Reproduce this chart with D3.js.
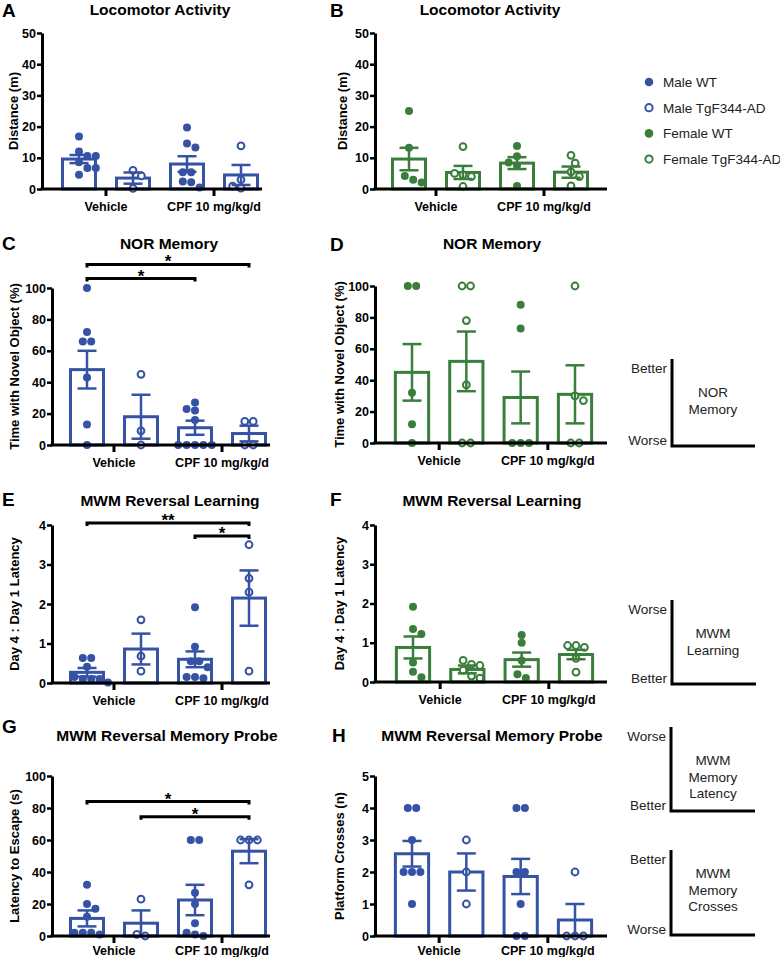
<!DOCTYPE html>
<html><head><meta charset="utf-8">
<script src="https://cdn.jsdelivr.net/npm/d3@7"></script>
<style>
html,body{margin:0;padding:0;background:#fff;}
svg{display:block;font-family:"Liberation Sans",Arial,Helvetica,sans-serif;}
</style></head>
<body>
<svg id="chart" width="780" height="957"></svg>
<script>
// ---------------- DATA ----------------
const groups = ["Vehicle", "CPF 10 mg/kg/d"];
const legendLabels = ["Male WT", "Male TgF344-AD", "Female WT", "Female TgF344-AD"];

const ticksLoco = [0, 10, 20, 30, 40, 50];
const ticksNOR = [0, 20, 40, 60, 80, 100];
const ticksMWM = [0, 1, 2, 3, 4];
const ticksLatency = [0, 20, 40, 60, 80, 100];
const ticksCrosses = [0, 1, 2, 3, 4, 5];

// A: Locomotor, male
const locoMaleMeans = [9.6, 3.5, 8.0, 4.5];
const locoMaleSEM = [1.3, 1.8, 2.5, 3.2];
const locoMalePoints = [[16.8, 12.0, 10.6, 10.6, 8.6, 6.7, 6.7, 4.6], [6.0, 4.2, 0.2], [19.7, 14.6, 13.3, 5.4, 5.4, 2.4, 2.2, 0.5], [13.8, 3.0, 0.9, 0.3]];
// B: Locomotor, female
const locoFemaleMeans = [9.6, 5.3, 8.3, 5.4];
const locoFemaleSEM = [3.6, 2.1, 1.9, 1.8];
const locoFemalePoints = [[25.0, 13.2, 4.2, 3.0, 2.1], [13.6, 5.0, 4.5, 4.0, 0.8], [13.8, 10.5, 8.5, 7.5, 1.0], [10.8, 8.3, 5.5, 4.0, 1.0]];
// C: NOR, male
const norMaleMeans = [48, 18, 11, 7.3];
const norMaleSEM = [12, 14, 4.5, 5];
const norMalePoints = [[100, 72, 66, 66, 43, 13, 0], [45, 9, 0], [27, 23, 22, 16, 0, 0, 0, 0, 0], [15, 15, 0, 0]];
const norMaleSig = [{a: 0, b: 2, label: "*", level: 106}, {a: 0, b: 3, label: "*", level: 115}];
// D: NOR, female
const norFemaleMeans = [45, 52, 29, 31];
const norFemaleSEM = [18, 19, 16.5, 18.5];
const norFemalePoints = [[100, 100, 32, 12, 0], [100, 100, 78, 37, 0, 0], [88, 73, 0, 0, 0], [100, 30, 27, 0, 0]];
// E: MWM learning, male
const mwmMaleMeans = [0.27, 0.86, 0.6, 2.15];
const mwmMaleSEM = [0.11, 0.39, 0.2, 0.7];
const mwmMalePoints = [[0.63, 0.63, 0.41, 0.15, 0.1, 0.1, 0.1, 0.01], [1.6, 0.68, 0.3], [1.92, 0.92, 0.55, 0.55, 0.4, 0.15, 0.15, 0.12], [3.5, 2.65, 2.3, 0.3]];
const mwmMaleSig = [{a: 2, b: 3, label: "*", level: 3.72}, {a: 0, b: 3, label: "**", level: 4.05}];
// F: MWM learning, female
const mwmFemaleMeans = [0.88, 0.32, 0.57, 0.7];
const mwmFemaleSEM = [0.28, 0.1, 0.18, 0.12];
const mwmFemalePoints = [[1.92, 1.35, 1.22, 0.5, 0.26, 0.12], [0.55, 0.45, 0.42, 0.3, 0.15, 0.1], [1.2, 1.0, 0.55, 0.2, 0.1], [0.93, 0.93, 0.88, 0.6, 0.25]];
// G: MWM latency, male
const latencyMeans = [11, 8, 22.5, 53];
const latencySEM = [5, 8, 9.5, 7.5];
const latencyPoints = [[32, 20, 17, 12, 2, 2, 2, 1], [23, 1, 0], [60, 60, 27, 20, 8, 2, 1, 0], [60, 60, 60, 32]];
const latencySig = [{a: 1, b: 3, label: "*", level: 74.5}, {a: 0, b: 3, label: "*", level: 84}];
// H: Platform crosses, male
const crossesMeans = [2.57, 2.0, 1.86, 0.5];
const crossesSEM = [0.4, 0.58, 0.55, 0.5];
const crossesPoints = [[4, 4, 3, 2, 2, 2, 1], [3, 2, 1], [4, 4, 2, 2, 1, 0, 0], [2, 0, 0, 0]];

// ---------------- STYLE / LAYOUT ----------------
const BLUE = "#3552a5", GREEN = "#3a7e3c";
const svg = d3.select("#chart");

const panels = [
  {letter: "A", lx: 2, ly: 17, title: "Locomotor Activity", tx: 160, ty: 15, ylab: "Distance (m)", ylx: 13,
   ax: 42, axEnd: 262, c0: 79, c3: 241, yTop: 33, yBot: 189, max: 50, ticks: ticksLoco, pad: 6,
   means: locoMaleMeans, sem: locoMaleSEM, points: locoMalePoints, color: BLUE, sig: []},
  {letter: "B", lx: 330, ly: 17, title: "Locomotor Activity", tx: 490, ty: 15, ylab: "Distance (m)", ylx: 342,
   ax: 375, axEnd: 607, c0: 409, c3: 571, yTop: 33, yBot: 189, max: 50, ticks: ticksLoco, pad: 6,
   means: locoFemaleMeans, sem: locoFemaleSEM, points: locoFemalePoints, color: GREEN, sig: []},
  {letter: "C", lx: 2, ly: 250, title: "NOR Memory", tx: 169, ty: 249, ylab: "Time with Novel Object (%)", ylx: 14,
   ax: 52, axEnd: 270, c0: 87, c3: 249, yTop: 288, yBot: 445, max: 100, ticks: ticksNOR, pad: 6,
   means: norMaleMeans, sem: norMaleSEM, points: norMalePoints, color: BLUE, sig: norMaleSig},
  {letter: "D", lx: 330, ly: 251, title: "NOR Memory", tx: 492, ty: 249, ylab: "Time with Novel Object (%)", ylx: 339,
   ax: 375, axEnd: 607, c0: 412, c3: 575, yTop: 286, yBot: 443, max: 100, ticks: ticksNOR, pad: 6,
   means: norFemaleMeans, sem: norFemaleSEM, points: norFemalePoints, color: GREEN, sig: []},
  {letter: "E", lx: 2, ly: 506, title: "MWM Reversal Learning", tx: 170, ty: 506, ylab: "Day 4 : Day 1 Latency", ylx: 14,
   ax: 52, axEnd: 270, c0: 87, c3: 249, yTop: 525, yBot: 683, max: 4, ticks: ticksMWM, pad: 6,
   means: mwmMaleMeans, sem: mwmMaleSEM, points: mwmMalePoints, color: BLUE, sig: mwmMaleSig},
  {letter: "F", lx: 330, ly: 506, title: "MWM Reversal Learning", tx: 492, ty: 506, ylab: "Day 4 : Day 1 Latency", ylx: 339,
   ax: 375, axEnd: 607, c0: 413, c3: 576, yTop: 525, yBot: 682, max: 4, ticks: ticksMWM, pad: 6,
   means: mwmFemaleMeans, sem: mwmFemaleSEM, points: mwmFemalePoints, color: GREEN, sig: []},
  {letter: "G", lx: 2, ly: 733, title: "MWM Reversal Memory Probe", tx: 167, ty: 741, ylab: "Latency to Escape (s)", ylx: 14,
   ax: 52, axEnd: 270, c0: 87, c3: 249, yTop: 776, yBot: 936, max: 100, ticks: ticksLatency, pad: 3,
   means: latencyMeans, sem: latencySEM, points: latencyPoints, color: BLUE, sig: latencySig},
  {letter: "H", lx: 332, ly: 742, title: "MWM Reversal Memory Probe", tx: 492, ty: 741, ylab: "Platform Crosses (n)", ylx: 339,
   ax: 375, axEnd: 607, c0: 412, c3: 575, yTop: 776, yBot: 936, max: 5, ticks: ticksCrosses, pad: 3,
   means: crossesMeans, sem: crossesSEM, points: crossesPoints, color: BLUE, sig: []}
];

function layoutPoints(vals, y, cx, sp) {
  const pts = vals.map((v, i) => ({v, i, y: y(v)})).sort((a, b) => a.y - b.y);
  const rows = [];
  pts.forEach(p => {
    const last = rows[rows.length - 1];
    if (last && Math.abs(p.y - last[0].y) < 4) last.push(p); else rows.push([p]);
  });
  const placed = [];
  rows.forEach(row => {
    const n = row.length;
    const cands = [0];
    for (let k = 1; k < 12; k++) cands.push(k * sp / 2, -k * sp / 2);
    let done = false;
    for (const s of cands) {
      const xs = row.map((p, i) => cx + s + (i - (n - 1) / 2) * sp);
      const ok = row.every((p, i) => placed.every(q => Math.hypot(q.x - xs[i], q.y - p.y) >= sp - 0.6));
      if (ok) { row.forEach((p, i) => { p.x = xs[i]; placed.push(p); }); done = true; break; }
    }
    if (!done) row.forEach((p, i) => { p.x = cx + (i - (n - 1) / 2) * sp; placed.push(p); });
  });
  return pts;
}

panels.forEach(P => {
  const g = svg.append("g");
  const y = d3.scaleLinear().domain([0, P.max]).range([P.yBot, P.yTop]);
  const step = (P.c3 - P.c0) / 3;
  const xb = d3.scaleBand().domain([0, 1, 2, 3]).range([P.c0 - step / 2, P.c3 + step / 2]).paddingInner(1 / 3).paddingOuter(1 / 6);
  const xg = d3.scaleBand().domain(groups).range([P.c0 - step / 2, P.c3 + step / 2]);

  // letter and title
  g.append("text").attr("x", P.lx).attr("y", P.ly).attr("font-size", 19).attr("font-weight", "bold").text(P.letter);
  g.append("text").attr("x", P.tx).attr("y", P.ty).attr("text-anchor", "middle").attr("font-size", 15.5).attr("font-weight", "bold").text(P.title);
  // y label
  g.append("text").attr("transform", `translate(${P.ylx},${(P.yTop + P.yBot) / 2}) rotate(-90)`)
    .attr("text-anchor", "middle").attr("dy", "0.35em").attr("font-size", 13).attr("font-weight", "bold").text(P.ylab);

  // bars
  const idx = [0, 1, 2, 3];
  g.selectAll("rect.bar").data(idx).join("rect").attr("class", "bar")
    .attr("x", i => xb(i) + 1.5).attr("width", xb.bandwidth() - 3)
    .attr("y", i => y(P.means[i])).attr("height", i => P.yBot - y(P.means[i]))
    .attr("fill", "#fff").attr("stroke", P.color).attr("stroke-width", 3);

  // points
  idx.forEach(i => {
    const cx = xb(i) + xb.bandwidth() / 2;
    const pts = layoutPoints(P.points[i], y, cx, 8.4);
    const open = (i % 2 === 1);
    g.selectAll(null).data(pts).join("circle")
      .attr("cx", d => d.x).attr("cy", d => d.y)
      .attr("r", open ? 3.4 : 4)
      .attr("fill", open ? "#fff" : P.color)
      .attr("stroke", open ? P.color : "none").attr("stroke-width", open ? 2 : 0);
  });

  // error bars
  const cap = 9.5;
  idx.forEach(i => {
    const cx = xb(i) + xb.bandwidth() / 2;
    const lo = Math.max(0, P.means[i] - P.sem[i]), hi = P.means[i] + P.sem[i];
    const eg = g.append("g").attr("stroke", P.color).attr("stroke-width", 2.5);
    eg.append("line").attr("x1", cx).attr("x2", cx).attr("y1", y(lo)).attr("y2", y(hi));
    eg.append("line").attr("x1", cx - cap).attr("x2", cx + cap).attr("y1", y(hi)).attr("y2", y(hi));
    eg.append("line").attr("x1", cx - cap).attr("x2", cx + cap).attr("y1", y(lo)).attr("y2", y(lo));
  });

  // y axis
  const ya = g.append("g").attr("transform", `translate(${P.ax},0)`)
    .call(d3.axisLeft(y).tickValues(P.ticks).tickFormat(d3.format("d")).tickSize(5).tickSizeOuter(0).tickPadding(1));
  ya.select(".domain").attr("stroke", "#000").attr("stroke-width", 3);
  ya.selectAll(".tick line").attr("stroke", "#000").attr("stroke-width", 2.5);
  ya.selectAll(".tick text").attr("font-size", 12.5).attr("font-weight", "bold").attr("fill", "#000")
    .attr("font-family", '"Liberation Sans",Arial,sans-serif');

  // x axis
  g.append("line").attr("x1", P.ax - 1.5).attr("x2", P.axEnd).attr("y1", P.yBot).attr("y2", P.yBot)
    .attr("stroke", "#000").attr("stroke-width", 3);
  const xa = g.append("g").attr("transform", `translate(0,${P.yBot})`)
    .call(d3.axisBottom(xg).tickSize(7).tickSizeOuter(0).tickPadding(P.pad));
  xa.select(".domain").remove();
  xa.selectAll(".tick line").attr("stroke", "#000").attr("stroke-width", 3);
  xa.selectAll(".tick text").attr("font-size", 12.5).attr("font-weight", "bold").attr("fill", "#000")
    .attr("font-family", '"Liberation Sans",Arial,sans-serif');

  // significance brackets
  P.sig.forEach(s => {
    const x1 = xb(s.a) + xb.bandwidth() / 2, x2 = xb(s.b) + xb.bandwidth() / 2, yy = y(s.level);
    g.append("path").attr("d", `M${x1},${yy + 3}V${yy}H${x2}V${yy + 3}`)
      .attr("fill", "none").attr("stroke", "#000").attr("stroke-width", 3);
    g.append("text").attr("x", (x1 + x2) / 2).attr("y", yy + 3).attr("text-anchor", "middle")
      .attr("font-size", 17).attr("font-weight", "bold").text(s.label);
  });
});

// legend
const legendColors = [BLUE, BLUE, GREEN, GREEN];
const lg = svg.append("g");
legendLabels.forEach((lab, i) => {
  const yy = 82 + i * 25.7;
  const open = i % 2 === 1;
  lg.append("circle").attr("cx", 649).attr("cy", yy).attr("r", open ? 3.6 : 4.3)
    .attr("fill", open ? "#fff" : legendColors[i]).attr("stroke", open ? legendColors[i] : "none").attr("stroke-width", 2);
  lg.append("text").attr("x", 663).attr("y", yy + 5).attr("font-size", 13.5).attr("fill", "#222").text(lab);
});

// interpretation keys
const keys = [
  {top: "Better", bottom: "Worse", lines: ["NOR", "Memory"], x: 672, y1: 359, y2: 446, x2: 755, ty: 397},
  {top: "Worse", bottom: "Better", lines: ["MWM", "Learning"], x: 672, y1: 600, y2: 684, x2: 756, ty: 638},
  {top: "Worse", bottom: "Better", lines: ["MWM", "Memory", "Latency"], x: 671, y1: 727, y2: 811, x2: 755, ty: 765},
  {top: "Better", bottom: "Worse", lines: ["MWM", "Memory", "Crosses"], x: 671, y1: 850, y2: 935, x2: 755, ty: 878}
];
keys.forEach(k => {
  const kg = svg.append("g");
  kg.append("path").attr("d", `M${k.x},${k.y1}V${k.y2}H${k.x2}`).attr("fill", "none").attr("stroke", "#000").attr("stroke-width", 3);
  kg.append("text").attr("x", k.x - 5).attr("y", k.y1 + 14).attr("text-anchor", "end").attr("font-size", 13.5).attr("fill", "#222").text(k.top);
  kg.append("text").attr("x", k.x - 5).attr("y", k.y2 - 1).attr("text-anchor", "end").attr("font-size", 13.5).attr("fill", "#222").text(k.bottom);
  k.lines.forEach((t, j) => {
    kg.append("text").attr("x", 713).attr("y", k.ty + j * 16.5).attr("text-anchor", "middle").attr("font-size", 13.5).attr("fill", "#222").text(t);
  });
});
</script>
</body></html>
